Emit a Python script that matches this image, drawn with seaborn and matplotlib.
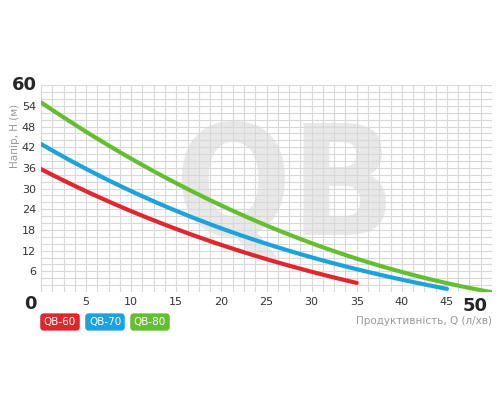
import matplotlib
matplotlib.use("Agg")
import matplotlib.pyplot as plt
import seaborn as sns
import numpy as np
import pandas as pd

q60 = [0, 5, 10, 15, 20, 25, 30, 35]
h60 = [35.5, 29.5, 23.5, 18.3, 13.0, 10.0, 6.0, 2.5]
q70 = [0, 5, 10, 15, 20, 25, 30, 35, 40, 45]
h70 = [43, 35.5, 29.7, 23.5, 17.5, 15.0, 10.0, 6.4, 3.5, 1.0]
q80 = [0, 5, 10, 15, 20, 25, 30, 35, 40, 45, 50]
h80 = [55, 46.5, 39.0, 31.5, 24.0, 20.0, 14.5, 10.0, 5.5, 2.0, 0.3]
names = ["QB-60", "QB-70", "QB-80"]
colors = ["#e0262f", "#1aa3dc", "#65be30"]
xticks = [5, 10, 15, 20, 25, 30, 35, 40, 45]
yticks = [6, 12, 18, 24, 30, 36, 42, 48, 54]

sns.set_style("white")
plt.rcParams['font.family'] = ['DejaVu Sans']
fig = plt.figure(figsize=(5, 4), dpi=100)
ax = fig.add_axes([0.082, 0.27, 0.902, 0.517])

frames = []
for q, h, n in zip([q60, q70, q80], [h60, h70, h80], names):
    qs = np.linspace(q[0], q[-1], 100)
    p = np.polyfit(q, h, 3)
    frames.append(pd.DataFrame({"Q": qs, "H": np.polyval(p, qs), "m": n}))
df = pd.concat(frames)
ax.text(27, 29, "QB", fontsize=110, fontweight="bold", color="#e8e8e8",
        ha="center", va="center", zorder=0, fontstretch="condensed",
        transform=ax.transData)
sns.lineplot(data=df, x="Q", y="H", hue="m", palette=colors, linewidth=3,
             legend=False, ax=ax, zorder=3)
ax.set_xlim(0, 50); ax.set_ylim(0, 60)
ax.set_xticks(np.arange(0, 50.01, 1.25), minor=True)
ax.set_yticks(np.arange(0, 60.01, 2), minor=True)
ax.set_xticks(xticks); ax.set_yticks(yticks)
ax.grid(which="both", color="#d8d8d8", linewidth=0.8)
for s in ax.spines.values():
    s.set_visible(False)
ax.tick_params(length=0, labelsize=8, colors="#333333")
ax.set_xlabel(""); ax.set_ylabel("")
ax.text(-0.5, 60, "60", fontsize=13, fontweight="bold", ha="right", va="center")
ax.text(-0.5, -1, "0", fontsize=13, fontweight="bold", ha="right", va="top")
ax.text(49.5, -1.5, "50", fontsize=13, fontweight="bold", ha="right", va="top")
fig.text(0.985, 0.19, "Продуктивність, Q (л/хв)", fontsize=7.5, color="#999999", ha="right")
fig.text(0.03, 0.66, "Напір, H (м)", fontsize=7.5, color="#999999", rotation=90, ha="center", va="center")
for i, (n, c) in enumerate(zip(names, colors)):
    fig.text(0.12 + i * 0.09, 0.195, n, fontsize=7.5, color="white", ha="center", va="center",
             bbox=dict(boxstyle="round,pad=0.35", fc=c, ec="none"))
fig.savefig("out.png", dpi=100)
